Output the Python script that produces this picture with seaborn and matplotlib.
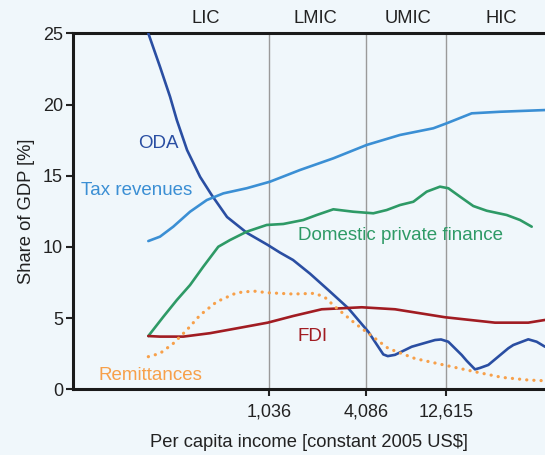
import numpy as np
import pandas as pd
import matplotlib
matplotlib.use("Agg")
import matplotlib.pyplot as plt
import seaborn as sns

# values (income in constant 2005 US$, share of GDP in %)
oda_x = [190, 224, 258, 284, 328, 394, 464, 576, 763, 1021, 1214, 1459, 1853, 2398, 3178, 4212, 5202, 5540, 6135,
         7763, 10780, 11730, 12995, 15690, 16840, 18930, 20310, 22830, 30250, 32460, 40090, 45110, 50730]
oda_y = [25.0, 22.65, 20.55, 18.9, 16.8, 14.92, 13.64, 12.1, 10.98, 10.14, 9.6, 9.08, 8.12, 6.97, 5.69, 4.04, 2.45, 2.33, 2.42,
         2.99, 3.46, 3.5, 3.34, 2.41, 2.0, 1.40, 1.5, 1.71, 2.88, 3.11, 3.51, 3.34, 2.99]

tax_x = [190, 224, 270, 342, 433, 547, 760, 1055, 1609, 2573, 4118, 6580, 10520, 12700, 18070, 26920, 50730]
tax_y = [10.41, 10.72, 11.42, 12.47, 13.29, 13.76, 14.12, 14.58, 15.4, 16.22, 17.16, 17.86, 18.33, 18.68, 19.38, 19.49, 19.61]

dpf_x = [190, 235, 284, 342, 412, 509, 600, 760, 1007, 1272, 1686, 2037, 2573, 3410, 4519, 5458, 6580, 7940, 9587,
         11560, 12995, 15320, 18480, 22320, 29570, 35670, 42070]
dpf_y = [3.74, 5.10, 6.27, 7.32, 8.61, 10.01, 10.48, 11.07, 11.54, 11.61, 11.89, 12.24, 12.64, 12.47, 12.36, 12.59, 12.94,
         13.17, 13.88, 14.23, 14.12, 13.53, 12.87, 12.54, 12.24, 11.89, 11.42]

fdi_x = [190, 224, 311, 453, 660, 1021, 1465, 2185, 3838, 6135, 12410, 25080, 40090, 50730]
fdi_y = [3.74, 3.70, 3.70, 3.94, 4.28, 4.68, 5.15, 5.62, 5.76, 5.62, 5.06, 4.68, 4.68, 4.87]

rem_x = [190, 224, 270, 326, 394, 498, 660, 834, 1021, 1465, 1989, 2289, 2635, 3493, 4212, 5583, 8132, 12410, 18930,
         27570, 40090, 50730]
rem_y = [2.29, 2.52, 3.22, 4.15, 5.21, 6.15, 6.78, 6.90, 6.78, 6.69, 6.74, 6.45, 5.80, 4.63, 3.93, 2.87, 2.16, 1.69, 1.23,
         0.84, 0.65, 0.60]

income_ticks = [1036, 4086, 12615]
income_tick_labels = ["1,036", "4,086", "12,615"]
groups = ["LIC", "LMIC", "UMIC", "HIC"]
group_pos = [427, 1989, 7335, 27300]

series_labels = ["ODA", "Tax revenues", "Domestic private finance", "FDI", "Remittances"]
series_colors = ["#2a4ea2", "#3b8fd4", "#2e9a66", "#a11c22", "#f7a04a"]
label_pos = [(218, 17.27), (73.4, 13.99), (1565, 10.77), (1554, 3.69), (94, 1.0)]
label_ha = ["center", "left", "left", "left", "left"]

sns.set_style("ticks")
plt.rcParams["font.family"] = ["Liberation Sans", "DejaVu Sans"]

bg = "#f0f7fb"
txt = "#222222"
fig = plt.figure(figsize=(5.45, 4.55), dpi=100, facecolor=bg)
ax = fig.add_axes([72.7 / 545, 65.7 / 455, 472.3 / 545, 356 / 455], facecolor=bg)

for xv in income_ticks:
    ax.axvline(xv, color="#9a9a9a", lw=1.0, zorder=1)

all_x = [oda_x, tax_x, dpf_x, fdi_x, rem_x]
all_y = [oda_y, tax_y, dpf_y, fdi_y, rem_y]
for i, (xs, ys) in enumerate(zip(all_x, all_y)):
    df = pd.DataFrame({"income": xs, "share": ys})
    if i == 4:
        sns.lineplot(data=df, x="income", y="share", ax=ax, color=series_colors[i],
                     lw=2.3, linestyle=(0, (0.05, 2.2)), dash_capstyle="round", zorder=3)
    else:
        sns.lineplot(data=df, x="income", y="share", ax=ax, color=series_colors[i],
                     lw=1.9, zorder=3)

ax.set_xscale("log")
ax.set_xlim(65.5, 50730)
ax.set_ylim(0, 25)
ax.set_yticks([0, 5, 10, 15, 20, 25])
ax.set_xticks(income_ticks)
ax.set_xticklabels(income_tick_labels)
ax.xaxis.set_minor_locator(matplotlib.ticker.NullLocator())
ax.tick_params(axis="both", labelsize=13, colors=txt, width=1.5, length=5, direction="out")
ax.tick_params(axis="y", pad=2)
ax.tick_params(axis="x", pad=5)

for s in ["left", "top", "bottom"]:
    ax.spines[s].set_linewidth(2.2)
    ax.spines[s].set_color("#1a1a1a")
ax.spines["right"].set_visible(False)

ax.set_xlabel("Per capita income [constant 2005 US$]", fontsize=13.2, color=txt, labelpad=10)
ax.set_ylabel("Share of GDP [%]", fontsize=13.2, color=txt, labelpad=6)

for g, gx in zip(groups, group_pos):
    ax.text(gx, 26.05, g, ha="center", va="center", fontsize=13.2, color=txt)

for lab, (lx, ly), ha, col in zip(series_labels, label_pos, label_ha, series_colors):
    ax.text(lx, ly, lab, color=col, fontsize=13.5, ha=ha, va="center")

fig.savefig("out.png", dpi=100, facecolor=bg)
